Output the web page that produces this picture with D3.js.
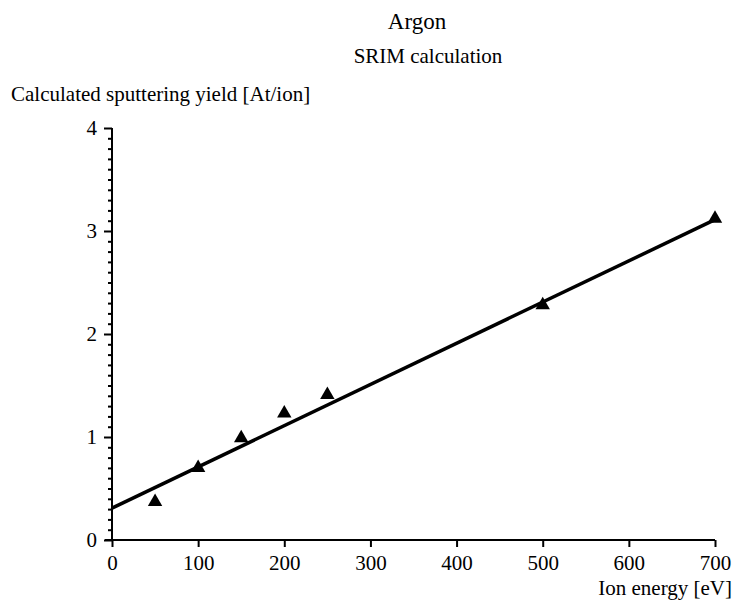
<!DOCTYPE html>
<html>
<head>
<meta charset="utf-8">
<script src="https://cdn.jsdelivr.net/npm/d3@7"></script>
<style>
  html, body { margin: 0; padding: 0; background: #fff; }
  svg text { font-family: "Liberation Serif", "Times New Roman", serif; fill: #000; }
</style>
</head>
<body>
<svg id="chart" width="737" height="601"></svg>
<script>
// Ion energy [eV] and SRIM sputtering yield [At/ion] for argon
const energies = [50, 100, 150, 200, 250, 500, 700];
const yields = [0.37, 0.70, 0.99, 1.23, 1.41, 2.28, 3.12];
// Linear fit: yield = intercept + slope * energy
const fitIntercept = 0.31;
const fitSlope = 0.0040;
const fitRange = [0, 700];
const xTicks = [0, 100, 200, 300, 400, 500, 600, 700];
const yTicks = [0, 1, 2, 3, 4];

const svg = d3.select("#chart");
const margin = { left: 112, right: 22, top: 128, bottom: 61 };
const W = 737, H = 601;

const x = d3.scaleLinear().domain([0, 700]).range([margin.left, W - margin.right]);
const y = d3.scaleLinear().domain([0, 4]).range([H - margin.bottom, margin.top]);

// Titles
svg.append("text").attr("x", 417).attr("y", 29).attr("text-anchor", "middle")
  .attr("font-size", 23).text("Argon");
svg.append("text").attr("x", 428).attr("y", 63).attr("text-anchor", "middle")
  .attr("font-size", 21).text("SRIM calculation");
svg.append("text").attr("x", 11).attr("y", 101).attr("font-size", 21)
  .text("Calculated sputtering yield [At/ion]");
svg.append("text").attr("x", 732).attr("y", 595).attr("text-anchor", "end")
  .attr("font-size", 21).text("Ion energy [eV]");

// X axis
const xAxis = svg.append("g").attr("transform", `translate(0,${y(0)})`)
  .call(d3.axisBottom(x).tickValues(xTicks).tickSize(7).tickPadding(8).tickFormat(d3.format("d")));
xAxis.select(".domain").attr("d", `M${x(0) - 7},0H${x(700)}`);

// Y axis with minor ticks every 0.1
const yMinor = d3.range(0, 40).map(i => i / 10).filter(v => Math.abs(v - Math.round(v)) > 1e-6);
svg.append("g").attr("transform", `translate(${x(0)},0)`)
  .call(d3.axisLeft(y).tickValues(yMinor).tickSize(4).tickFormat(""))
  .select(".domain").remove();
const yAxis = svg.append("g").attr("transform", `translate(${x(0)},0)`)
  .call(d3.axisLeft(y).tickValues(yTicks).tickSize(8).tickPadding(7).tickFormat(d3.format("d")));
yAxis.select(".domain").attr("d", `M0,${y(0)}V${y(4)}`);

svg.selectAll(".domain, .tick line").attr("stroke", "#000").attr("stroke-width", 2);
svg.selectAll(".tick text").attr("font-size", 21)
  .style("font-family", '"Liberation Serif", "Times New Roman", serif');

// Fit line
svg.append("line")
  .attr("x1", x(fitRange[0])).attr("y1", y(fitIntercept + fitSlope * fitRange[0]))
  .attr("x2", x(fitRange[1])).attr("y2", y(fitIntercept + fitSlope * fitRange[1]))
  .attr("stroke", "#000").attr("stroke-width", 3.5);

// Data markers
const tri = d3.symbol().type(d3.symbolTriangle).size(90);
svg.append("g").selectAll("path").data(energies).join("path")
  .attr("transform", (d, i) => `translate(${x(d)},${y(yields[i])})`)
  .attr("d", tri).attr("fill", "#000");
</script>
</body>
</html>
